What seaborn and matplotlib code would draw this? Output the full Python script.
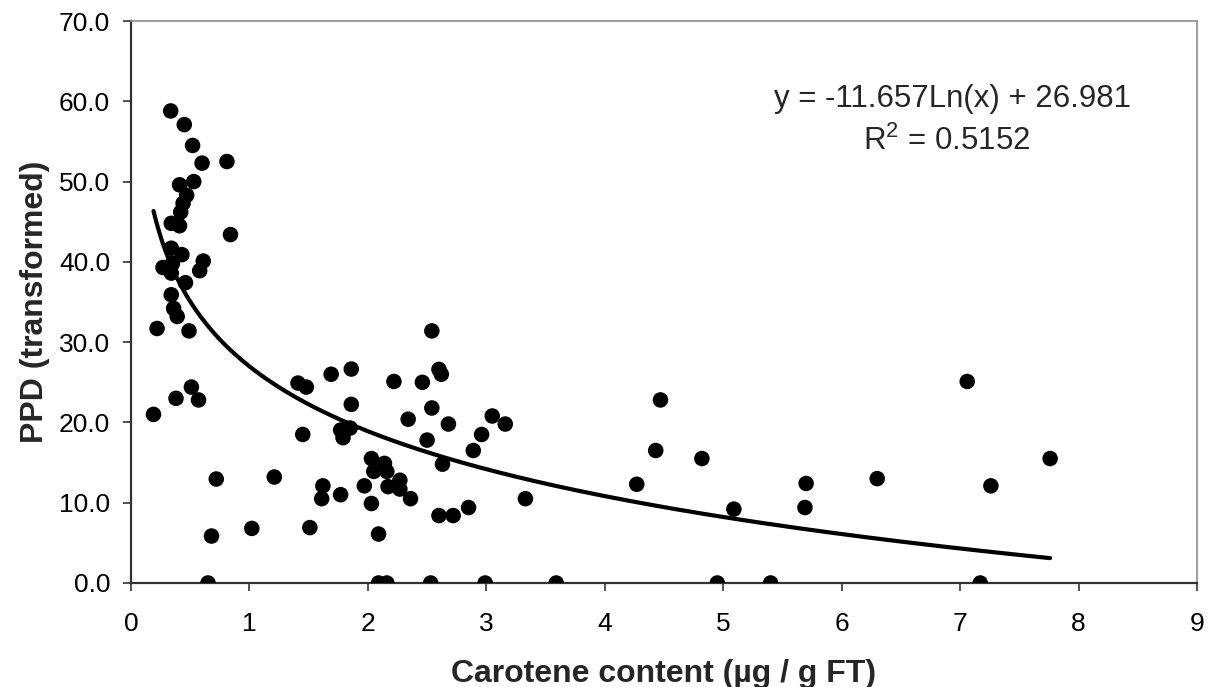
import numpy as np
import pandas as pd
import matplotlib
matplotlib.use("Agg")
import matplotlib.pyplot as plt
import seaborn as sns
from matplotlib.ticker import FormatStrFormatter, MultipleLocator

# ---- data ----
carotene = [
    0.335, 0.45, 0.52, 0.60, 0.81, 0.41, 0.53, 0.47, 0.44, 0.42,
    0.34, 0.41, 0.84, 0.34, 0.43, 0.27, 0.35, 0.61, 0.58, 0.34,
    0.46, 0.34, 0.36, 0.39, 0.22, 0.49, 0.51, 0.38, 0.57, 0.19,
    0.72, 0.68, 0.65,
    1.02, 1.51, 1.21, 1.41, 1.48, 1.45, 1.62, 1.61, 1.69, 1.77,
    1.77, 1.79, 1.85, 1.86, 1.86, 1.97, 2.03, 2.05, 2.03, 2.09,
    2.09, 2.16, 2.14, 2.16, 2.17, 2.22, 2.27, 2.27, 2.34, 2.36,
    2.46, 2.50, 2.54, 2.54, 2.53, 2.60, 2.62, 2.60, 2.63, 2.68,
    2.72, 2.85, 2.89, 2.96, 2.99, 3.05, 3.16, 3.33, 3.59,
    4.27, 4.43, 4.47, 4.82, 4.95, 5.09, 5.40, 5.69, 5.70, 6.30,
    7.06, 7.17, 7.26, 7.76,
]
ppd = [
    58.8, 57.1, 54.5, 52.3, 52.5, 49.6, 50.0, 48.3, 47.3, 46.2,
    44.8, 44.5, 43.4, 41.7, 40.9, 39.3, 39.8, 40.1, 38.9, 38.6,
    37.4, 35.9, 34.2, 33.2, 31.7, 31.4, 24.4, 23.0, 22.8, 21.0,
    12.95, 5.85, 0.0,
    6.8, 6.9, 13.2, 24.9, 24.4, 18.5, 12.1, 10.5, 26.0, 11.0,
    19.05, 18.1, 19.3, 26.65, 22.25, 12.1, 15.5, 13.9, 9.9, 6.1,
    0.0, 0.0, 14.9, 13.9, 12.0, 25.1, 12.8, 11.7, 20.4, 10.5,
    25.0, 17.8, 31.4, 21.8, 0.0, 26.6, 26.0, 8.4, 14.8, 19.8,
    8.4, 9.4, 16.5, 18.5, 0.0, 20.8, 19.8, 10.5, 0.0,
    12.3, 16.5, 22.8, 15.5, 0.0, 9.2, 0.0, 9.4, 12.4, 13.0,
    25.1, 0.0, 12.1, 15.5,
]
# logarithmic trendline coefficients (as printed on the chart)
trend_slope = -11.657
trend_intercept = 26.981
r_squared = "0.5152"

x_label = "Carotene content (µg / g FT)"
y_label = "PPD (transformed)"

df = pd.DataFrame({"carotene": carotene, "ppd": ppd})

sns.set_theme(style="white")
plt.rcParams["font.family"] = ["Liberation Sans", "DejaVu Sans"]
plt.rcParams["mathtext.fontset"] = "custom"
plt.rcParams["mathtext.rm"] = "Liberation Sans"
plt.rcParams["mathtext.it"] = "Liberation Sans"
plt.rcParams["mathtext.bf"] = "Liberation Sans:bold"

fig = plt.figure(figsize=(12.14, 6.87), dpi=100)
ax = fig.add_axes([0.1079, 0.1514, 0.8781, 0.818])

# trendline
tx = np.linspace(min(carotene), max(carotene), 300)
ty = trend_slope * np.log(tx) + trend_intercept
sns.lineplot(x=tx, y=ty, ax=ax, color="black", linewidth=3.0, zorder=3)

sns.scatterplot(data=df, x="carotene", y="ppd", ax=ax, color="black",
                s=125, edgecolor="none", linewidth=0, zorder=4)

ax.set_xlim(0, 9)
ax.set_ylim(0, 70)
ax.xaxis.set_major_locator(MultipleLocator(1))
ax.yaxis.set_major_locator(MultipleLocator(10))
ax.yaxis.set_major_formatter(FormatStrFormatter("%.1f"))

ax.tick_params(axis="both", which="major", direction="out", length=6,
               width=1.2, color="#333333", labelsize=19, labelcolor="black",
               left=True, bottom=True)
ax.tick_params(axis="x", pad=15)
ax.tick_params(axis="y", pad=9)

for side in ["left", "bottom"]:
    ax.spines[side].set_color("#333333")
    ax.spines[side].set_linewidth(1.6)
for side in ["top", "right"]:
    ax.spines[side].set_color("#8c8c8c")
    ax.spines[side].set_linewidth(1.2)

ax.set_xlabel(x_label, fontsize=23, fontweight="bold")
ax.set_ylabel(y_label, fontsize=23, fontweight="bold")
ax.xaxis.label.set_va("baseline")
ax.xaxis.set_label_coords(0.5, -0.176)
ax.yaxis.label.set_va("baseline")
ax.yaxis.set_label_coords(-0.083, 0.5)

ax.text(0.771, 0.862, f"y = {trend_slope}Ln(x) + {trend_intercept}",
        transform=ax.transAxes, ha="center", va="center", fontsize=22.5)
ax.text(0.765, 0.785, r"R$^2$ = " + r_squared,
        transform=ax.transAxes, ha="center", va="center", fontsize=22.5)

ax.grid(False)
fig.savefig("out.png", dpi=100, facecolor="white")
